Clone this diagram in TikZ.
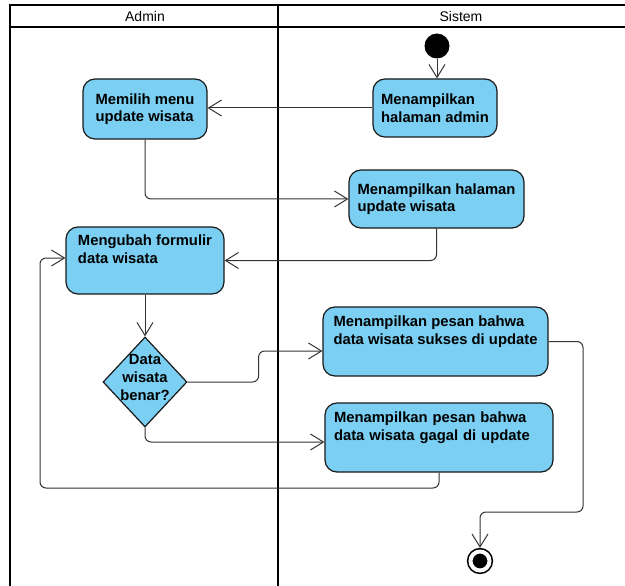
\documentclass[tikz,border=0pt]{standalone}
\usepackage{fontspec}
\setmainfont{Liberation Sans}
\usetikzlibrary{arrows.meta,shapes.geometric,calc}
\definecolor{actblue}{RGB}{122,207,243}
\definecolor{flowgray}{RGB}{51,51,51}
\tikzset{
    act/.style={draw=black!90, line width=1.2pt, fill=actblue, rounded corners=12pt,
        align=left, inner sep=0pt, font=\fontsize{14.8}{17.5}\selectfont\bfseries},
    decision/.style={diamond, draw=black!90, line width=1.2pt, fill=actblue,
        minimum width=84pt, minimum height=90pt, inner sep=0pt},
    initial/.style={circle, fill=black, minimum size=25pt, inner sep=0pt},
    final/.style={circle, draw=black, fill=black, line width=1.6pt, double=white,
        double distance=4pt, minimum size=19pt, inner sep=0pt, outer sep=3.6pt},
    flow/.style={draw=flowgray, line width=1pt, rounded corners=6pt,
        -{Straight Barb[length=13pt,width=16pt]}},
    lane/.style={line width=2pt}
}

\begin{document}
\begin{tikzpicture}[x=1pt,y=-1pt,
    head/.style={font=\fontsize{14}{16}\selectfont}]
    \useasboundingbox (0,0) rectangle (625,586);

    % swimlanes
    \draw[lane] (10,600) -- (10,5) -- (640,5) (10,27) -- (640,27) (278,5) -- (278,600);
    \node[head] (hadmin) at (145,16) {Admin};
    \node[head] (hsistem) at (461,16) {Sistem};

    \node[initial] (start) at (437,46) {};
    \node[act, minimum width=124pt, minimum height=58pt] (admin) at (435,108) {Menampilkan\\halaman admin};
    \node[act, minimum width=124pt, minimum height=60pt] (memilih) at (145,109) {Memilih menu\\update wisata};
    \node[act, minimum width=175pt, minimum height=58pt] (halupdate) at (436.5,199) {Menampilkan halaman\\update wisata};
    \node[act, minimum width=158pt, minimum height=67pt] (ubah) at (145,260.5) {Mengubah formulir\\data wisata\\\strut};
    \node[decision] (cek) at (145,382) {};
    \node[align=center, font=\fontsize{14.8}{18}\selectfont\bfseries] (cektext) at ([yshift=5pt]cek.center) {Data\\wisata\\benar?};
    \node[act, minimum width=225pt, minimum height=69pt] (sukses) at (435.5,341.5) {Menampilkan pesan bahwa\\data wisata sukses di update\\\strut};
    \node[act, minimum width=228pt, minimum height=69pt, text width=210pt] (gagal) at (439,437.5) {Menampilkan pesan bahwa\\data wisata gagal di update\\\strut};
    \node[final] (end) at (480,561) {};

    \coordinate (back) at (40,488);
    \coordinate (turn) at (583,512);

    \draw[flow] (start) -- (start |- admin.north);
    \draw[flow] (admin.west) -- (admin.west -| memilih.east);
    \draw[flow] (memilih.south) |- (halupdate.west);
    \draw[flow] (halupdate.south) |- (ubah.east);
    \draw[flow] (ubah.south) -- (cek.north);
    \draw[flow] (cek.east) -- ++(71,0) |- ([yshift=-9.5pt]sukses.west);
    \draw[flow] (cek.south) |- ([yshift=-4.5pt]gagal.west);
    \draw[flow] (gagal.south) |- (back) |- ([yshift=2.5pt]ubah.west);
    \draw[flow] (sukses.east) -| (turn) -| (end.north);
\end{tikzpicture}
\end{document}
